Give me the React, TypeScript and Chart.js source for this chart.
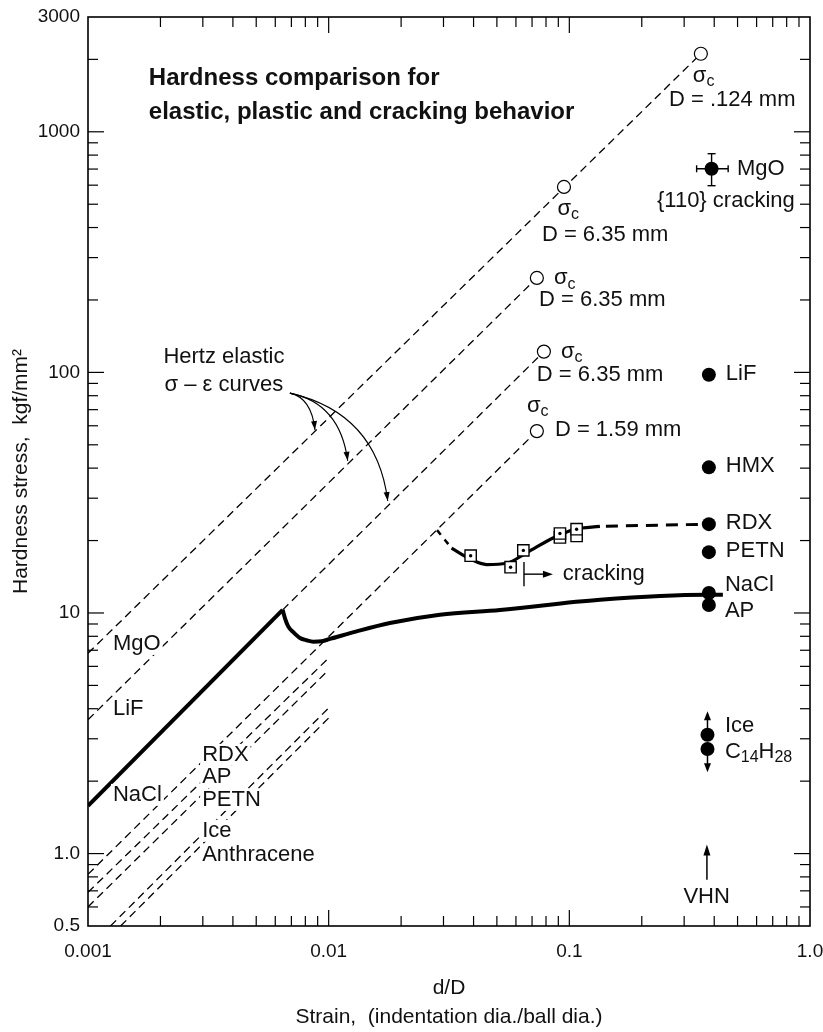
import React, { useEffect, useRef } from 'react';
import { Chart, registerables } from 'chart.js';

Chart.register(...registerables);

const FONT = '"Liberation Sans", Arial, Helvetica, sans-serif';

// ---------- axes ----------
const xTickValues = [0.001, 0.01, 0.1, 1];
const xTickLabels = ['0.001', '0.01', '0.1', '1.0'];
const yTickValues = [0.5, 1, 10, 100, 1000, 3000];
const yTickLabels = ['0.5', '1.0', '10', '100', '1000', '3000'];
const xMajorMarks = [0.01, 0.1];
const xMinorMarks = [0.002, 0.003, 0.004, 0.005, 0.006, 0.007, 0.008, 0.009,
  0.02, 0.03, 0.04, 0.05, 0.06, 0.07, 0.08, 0.09,
  0.2, 0.3, 0.4, 0.5, 0.6, 0.7, 0.8, 0.9];
const yMajorMarks = [1, 10, 100, 1000];
const yMinorMarks = [0.6, 0.7, 0.8, 0.9, 2, 3, 4, 5, 6, 7, 8, 9,
  20, 30, 40, 50, 60, 70, 80, 90, 200, 300, 400, 500, 600, 700, 800, 900, 2000];

// ---------- Hertz elastic sigma-epsilon lines ----------
const hertzMgOX = [0.001, 0.352];
const hertzMgOY = [6.8, 2110];
const hertzLiFX = [0.001, 0.0733];
const hertzLiFY = [3.6, 247];
const hertzNaClX = [0.00644, 0.0784];
const hertzNaClY = [10.3, 122];
const hertzRDXX = [0.001, 0.0733];
const hertzRDXY = [0.82, 57];
const hertzAPX = [0.001, 0.01];
const hertzAPY = [0.69, 6.5];
const hertzPETNX = [0.001, 0.01];
const hertzPETNY = [0.6, 5.8];
const hertzIceX = [0.00124, 0.01];
const hertzIceY = [0.5, 4.03];
const hertzAnthX = [0.001366, 0.01];
const hertzAnthY = [0.5, 3.66];

// ---------- critical stress (sigma_c) points ----------
const sigmaCX = [0.352, 0.095, 0.0733, 0.0784, 0.0733];
const sigmaCY = [2110, 590, 247, 122, 57];

// ---------- NaCl measured curve ----------
const naclRiseX = [0.001, 0.00644];
const naclRiseY = [1.58, 10.3];
const naclPlasticX = [0.00644, 0.00658, 0.00679, 0.00713, 0.0076, 0.0081, 0.00863, 0.00935,
  0.01013, 0.01307, 0.01797, 0.029, 0.0515, 0.134, 0.373, 0.4345];
const naclPlasticY = [10.3, 9.53, 8.8, 8.32, 7.87, 7.7, 7.6, 7.63,
  7.8, 8.39, 9.09, 9.84, 10.3, 11.35, 11.9, 11.9];

// ---------- RDX measured curve ----------
const rdxOnsetX = [0.0282, 0.0324];
const rdxOnsetY = [22.1, 18.6];
const rdxCurveX = [0.0324, 0.0386, 0.0453, 0.0549, 0.0665, 0.0855, 0.1055, 0.134];
const rdxCurveY = [18.6, 16.8, 15.9, 16.1, 17.8, 20.5, 22.3, 22.9];
const rdxExtrapX = [0.134, 0.38];
const rdxExtrapY = [22.9, 23.4];
const rdxSquaresX = [0.0914, 0.1072, 0.0389, 0.057, 0.0644, 0.0914, 0.1072];
const rdxSquaresY = [20.6, 20.9, 17.3, 15.5, 18.2, 21.4, 22.3];

// ---------- VHN (Vickers) hardness points ----------
const vhnMaterials = ['MgO', 'LiF', 'HMX', 'RDX', 'PETN', 'NaCl', 'AP', 'Ice', 'C14H28'];
const vhnX = [0.39, 0.38, 0.38, 0.38, 0.38, 0.38, 0.38, 0.375, 0.375];
const vhnY = [702, 97.8, 40.3, 23.4, 17.9, 12.1, 10.8, 3.12, 2.72];
const mgoErrX = [0.338, 0.457];
const mgoErrY = [597, 811];

// arrows (data coords)
const iceArrowY = [3.12, 3.9];
const c14ArrowY = [2.72, 2.18];
const vhnArrowX = 0.373;
const vhnArrowY = [0.779, 1.09];
const crackBarX = 0.0648;
const crackBarY = [12.9, 16.3];
const crackArrowX = [0.0648, 0.0855];
const crackArrowY = 14.5;

// Hertz curved arrows: start, control, end
const hertzArrowStart = [0.0069, 82];
const hertzArrowCtrlX = [0.0085, 0.01114, 0.01583];
const hertzArrowCtrlY = [78.3, 74.6, 67.8];
const hertzArrowEndX = [0.00877, 0.012, 0.0176];
const hertzArrowEndY = [57.6, 42.9, 29.2];

type Part = { t: string; sub?: boolean };
type Label = { parts: Part[]; x: number; y: number; align: 'left' | 'center'; size?: number; bold?: boolean; bg?: boolean };

const SIG: Part[] = [{ t: 'σ' }, { t: 'c', sub: true }];

const labels: Label[] = [
  { parts: [{ t: 'Hardness comparison for' }], x: 0.00179, y: 1648, align: 'left', size: 24, bold: true },
  { parts: [{ t: 'elastic, plastic and cracking behavior' }], x: 0.00179, y: 1193, align: 'left', size: 24, bold: true },
  { parts: SIG, x: 0.326, y: 1690, align: 'left', bg: true },
  { parts: [{ t: 'D = .124 mm' }], x: 0.2594, y: 1343, align: 'left' },
  { parts: SIG, x: 0.0892, y: 473, align: 'left', bg: true },
  { parts: [{ t: 'D = 6.35 mm' }], x: 0.0769, y: 369, align: 'left' },
  { parts: SIG, x: 0.0863, y: 244, align: 'left', bg: true },
  { parts: [{ t: 'D = 6.35 mm' }], x: 0.0748, y: 198, align: 'left' },
  { parts: SIG, x: 0.0923, y: 120.4, align: 'left', bg: true },
  { parts: [{ t: 'D = 6.35 mm' }], x: 0.0733, y: 96.6, align: 'left' },
  { parts: SIG, x: 0.0667, y: 71.8, align: 'left', bg: true },
  { parts: [{ t: 'D = 1.59 mm' }], x: 0.0871, y: 57.1, align: 'left' },
  { parts: [{ t: 'MgO' }], x: 0.497, y: 694, align: 'left' },
  { parts: [{ t: '{110} cracking' }], x: 0.447, y: 511, align: 'center' },
  { parts: [{ t: 'LiF' }], x: 0.447, y: 97.8, align: 'left' },
  { parts: [{ t: 'HMX' }], x: 0.447, y: 40.3, align: 'left' },
  { parts: [{ t: 'RDX' }], x: 0.447, y: 23.4, align: 'left' },
  { parts: [{ t: 'PETN' }], x: 0.447, y: 17.9, align: 'left' },
  { parts: [{ t: 'NaCl' }], x: 0.443, y: 12.95, align: 'left' },
  { parts: [{ t: 'AP' }], x: 0.443, y: 10.1, align: 'left' },
  { parts: [{ t: 'Ice' }], x: 0.443, y: 3.36, align: 'left' },
  { parts: [{ t: 'C' }, { t: '14', sub: true }, { t: 'H' }, { t: '28', sub: true }], x: 0.443, y: 2.62, align: 'left' },
  { parts: [{ t: 'VHN' }], x: 0.372, y: 0.654, align: 'center' },
  { parts: [{ t: 'cracking' }], x: 0.094, y: 14.4, align: 'left' },
  { parts: [{ t: 'MgO' }], x: 0.00127, y: 7.36, align: 'left', bg: true },
  { parts: [{ t: 'LiF' }], x: 0.00127, y: 3.95, align: 'left', bg: true },
  { parts: [{ t: 'NaCl' }], x: 0.00127, y: 1.735, align: 'left', bg: true },
  { parts: [{ t: 'RDX' }], x: 0.00298, y: 2.545, align: 'left', bg: true },
  { parts: [{ t: 'AP' }], x: 0.00298, y: 2.06, align: 'left', bg: true },
  { parts: [{ t: 'PETN' }], x: 0.00298, y: 1.654, align: 'left', bg: true },
  { parts: [{ t: 'Ice' }], x: 0.00298, y: 1.23, align: 'left', bg: true },
  { parts: [{ t: 'Anthracene' }], x: 0.00298, y: 0.977, align: 'left', bg: true },
  { parts: [{ t: 'Hertz elastic' }], x: 0.00367, y: 114.8, align: 'center' },
  { parts: [{ t: 'σ – ε curves' }], x: 0.00367, y: 87.8, align: 'center' },
];

const pts = (xs: number[], ys: number[]) => xs.map((x, i) => ({ x, y: ys[i] }));

const lineDs = (xs: number[], ys: number[], width: number, dash: number[], extra: any = {}) => ({
  data: pts(xs, ys),
  borderColor: '#000',
  borderWidth: width,
  borderDash: dash,
  pointRadius: 0,
  fill: false,
  tension: 0,
  order: 10,
  ...extra,
});

const HDASH = [8, 5];

function drawRich(ctx: CanvasRenderingContext2D, lab: Label, px: number, py0: number) {
  const size = lab.size || 22;
  const py = py0 - size * 0.05;
  const subSize = Math.round(size * 0.72);
  const weight = lab.bold ? 'bold ' : '';
  const widths = lab.parts.map((p) => {
    ctx.font = `${weight}${p.sub ? subSize : size}px ${FONT}`;
    return ctx.measureText(p.t).width;
  });
  const total = widths.reduce((a, b) => a + b, 0);
  let x = lab.align === 'center' ? px - total / 2 : px;
  if (lab.bg) {
    ctx.fillStyle = '#fff';
    ctx.fillRect(x - 2, py - size * 0.5, total + 4, size * 1.0);
  }
  ctx.fillStyle = '#111';
  ctx.textBaseline = 'middle';
  ctx.textAlign = 'left';
  lab.parts.forEach((p, i) => {
    ctx.font = `${weight}${p.sub ? subSize : size}px ${FONT}`;
    ctx.fillText(p.t, x, p.sub ? py + size * 0.28 : py);
    x += widths[i];
  });
}

function arrowHead(ctx: CanvasRenderingContext2D, tx: number, ty: number, ang: number, len = 9, half = 3.5) {
  ctx.beginPath();
  ctx.moveTo(tx, ty);
  ctx.lineTo(tx - len * Math.cos(ang) + half * Math.sin(ang), ty - len * Math.sin(ang) - half * Math.cos(ang));
  ctx.lineTo(tx - len * Math.cos(ang) - half * Math.sin(ang), ty - len * Math.sin(ang) + half * Math.cos(ang));
  ctx.closePath();
  ctx.fill();
}

const overlayPlugin = {
  id: 'overlay',
  afterDatasetsDraw(chart: any) {
    const ctx: CanvasRenderingContext2D = chart.ctx;
    const X = (v: number) => chart.scales.x.getPixelForValue(v);
    const Y = (v: number) => chart.scales.y.getPixelForValue(v);
    const { left, right, top, bottom } = chart.chartArea;
    ctx.save();
    ctx.strokeStyle = '#000';
    ctx.fillStyle = '#000';
    const seg = (x1: number, y1: number, x2: number, y2: number) => {
      ctx.beginPath();
      ctx.moveTo(x1, y1);
      ctx.lineTo(x2, y2);
      ctx.stroke();
    };
    // frame
    ctx.lineWidth = 1.6;
    ctx.strokeRect(left, top, right - left, bottom - top);
    // ticks on all four sides (inward)
    ctx.lineWidth = 1.2;
    xMajorMarks.forEach((v) => { const p = X(v); seg(p, bottom, p, bottom - 16); seg(p, top, p, top + 16); });
    xMinorMarks.forEach((v) => { const p = X(v); seg(p, bottom, p, bottom - 10); seg(p, top, p, top + 10); });
    yMajorMarks.forEach((v) => { const p = Y(v); seg(left, p, left + 16, p); seg(right, p, right - 16, p); });
    yMinorMarks.forEach((v) => { const p = Y(v); seg(left, p, left + 10, p); seg(right, p, right - 10, p); });

    // MgO error bars
    ctx.lineWidth = 1.4;
    const mx = X(vhnX[0]);
    const my = Y(vhnY[0]);
    seg(mx, Y(mgoErrY[0]), mx, Y(mgoErrY[1]));
    seg(mx - 4, Y(mgoErrY[0]), mx + 4, Y(mgoErrY[0]));
    seg(mx - 4, Y(mgoErrY[1]), mx + 4, Y(mgoErrY[1]));
    seg(X(mgoErrX[0]), my, X(mgoErrX[1]), my);
    seg(X(mgoErrX[0]), my - 3.5, X(mgoErrX[0]), my + 3.5);
    seg(X(mgoErrX[1]), my - 3.5, X(mgoErrX[1]), my + 3.5);

    // Ice (up) / C14H28 (down) arrows
    ctx.lineWidth = 1.5;
    const ix = X(vhnX[7]);
    seg(ix, Y(iceArrowY[0]), ix, Y(iceArrowY[1]) + 6);
    arrowHead(ctx, ix, Y(iceArrowY[1]), -Math.PI / 2, 9, 3.5);
    const cx = X(vhnX[8]);
    seg(cx, Y(c14ArrowY[0]), cx, Y(c14ArrowY[1]) - 6);
    arrowHead(ctx, cx, Y(c14ArrowY[1]), Math.PI / 2, 9, 3.5);
    // VHN arrow
    const vx = X(vhnArrowX);
    seg(vx, Y(vhnArrowY[0]), vx, Y(vhnArrowY[1]) + 6);
    arrowHead(ctx, vx, Y(vhnArrowY[1]), -Math.PI / 2, 11, 3.5);
    // cracking marker
    ctx.lineWidth = 1.4;
    seg(X(crackBarX), Y(crackBarY[0]), X(crackBarX), Y(crackBarY[1]));
    seg(X(crackArrowX[0]), Y(crackArrowY), X(crackArrowX[1]) - 6, Y(crackArrowY));
    arrowHead(ctx, X(crackArrowX[1]), Y(crackArrowY), 0, 10, 3.5);

    // Hertz curved arrows
    ctx.lineWidth = 1.1;
    const sx = X(hertzArrowStart[0]);
    const sy = Y(hertzArrowStart[1]);
    hertzArrowEndX.forEach((ex, i) => {
      const qx = X(hertzArrowCtrlX[i]);
      const qy = Y(hertzArrowCtrlY[i]);
      const tx = X(ex);
      const ty = Y(hertzArrowEndY[i]);
      ctx.beginPath();
      ctx.moveTo(sx, sy);
      ctx.quadraticCurveTo(qx, qy, tx, ty);
      ctx.stroke();
      arrowHead(ctx, tx, ty, Math.atan2(ty - qy, tx - qx), 9, 3);
    });

    // text labels
    labels.forEach((lab) => drawRich(ctx, lab, X(lab.x), Y(lab.y)));
    ctx.restore();
  },
};

export default function App() {
  const ref = useRef<HTMLCanvasElement>(null);
  useEffect(() => {
    if (!ref.current) return;
    const datasets: any[] = [
      lineDs(hertzMgOX, hertzMgOY, 1.3, HDASH),
      lineDs(hertzLiFX, hertzLiFY, 1.3, HDASH),
      lineDs(hertzNaClX, hertzNaClY, 1.3, HDASH),
      lineDs(hertzRDXX, hertzRDXY, 1.3, HDASH),
      lineDs(hertzAPX, hertzAPY, 1.3, HDASH),
      lineDs(hertzPETNX, hertzPETNY, 1.3, HDASH),
      lineDs(hertzIceX, hertzIceY, 1.3, HDASH),
      lineDs(hertzAnthX, hertzAnthY, 1.3, HDASH),
      lineDs(naclRiseX, naclRiseY, 4, [], { order: 6 }),
      lineDs(naclPlasticX, naclPlasticY, 4, [], { order: 6, cubicInterpolationMode: 'monotone' }),
      lineDs(rdxOnsetX, rdxOnsetY, 2.5, [6, 6], { order: 6 }),
      lineDs(rdxCurveX, rdxCurveY, 3.2, [], { order: 6, cubicInterpolationMode: 'monotone' }),
      lineDs(rdxExtrapX, rdxExtrapY, 3, [12, 8], { order: 6, borderDashOffset: -6 }),
      {
        data: pts(sigmaCX, sigmaCY), showLine: false, pointStyle: 'circle', pointRadius: 6.5, order: 3,
        pointBackgroundColor: '#fff', pointBorderColor: '#000', pointBorderWidth: 1.2,
      },
      {
        data: pts(rdxSquaresX, rdxSquaresY), showLine: false, pointStyle: 'rect', pointRadius: 8, order: 2,
        pointBackgroundColor: '#fff', pointBorderColor: '#000', pointBorderWidth: 1.4,
      },
      {
        data: pts(rdxSquaresX.slice(2), rdxSquaresY.slice(2)), showLine: false, pointStyle: 'circle', pointRadius: 1.7, order: 1,
        pointBackgroundColor: '#000', pointBorderColor: '#000', pointBorderWidth: 0,
      },
      {
        label: 'VHN', data: pts(vhnX, vhnY), showLine: false, pointStyle: 'circle', pointRadius: 7, order: 1,
        pointBackgroundColor: '#000', pointBorderColor: '#000', pointBorderWidth: 0,
      },
    ];
    const chart = new Chart(ref.current, {
      type: 'line',
      data: { datasets },
      options: {
        responsive: false,
        animation: false,
        devicePixelRatio: 1,
        layout: { padding: { left: 0, right: 13, top: 17, bottom: 0 } },
        plugins: { legend: { display: false }, tooltip: { enabled: false } },
        events: [],
        scales: {
          x: {
            type: 'logarithmic',
            min: 0.001,
            max: 1,
            grid: { display: false, drawTicks: false },
            border: { display: false },
            afterBuildTicks: (s: any) => { s.ticks = xTickValues.map((v) => ({ value: v })); },
            afterFit: (s: any) => { s.height = 106; s.paddingLeft = 0; s.paddingRight = 0; },
            ticks: {
              autoSkip: false, maxRotation: 0, minRotation: 0, padding: 14, color: '#111',
              font: { family: FONT, size: 19 },
              callback: (_v: any, i: number) => xTickLabels[i],
            },
            title: {
              display: true,
              text: ['d/D', 'Strain,  (indentation dia./ball dia.)'],
              color: '#111',
              font: { family: FONT, size: 21, lineHeight: 1.38 },
              padding: { top: 0, bottom: 0 },
            },
          },
          y: {
            type: 'logarithmic',
            min: 0.5,
            max: 3000,
            grid: { display: false, drawTicks: false },
            border: { display: false },
            afterBuildTicks: (s: any) => { s.ticks = yTickValues.map((v) => ({ value: v })); },
            afterFit: (s: any) => { s.width = 88; s.paddingTop = 0; s.paddingBottom = 0; },
            ticks: {
              autoSkip: false, padding: 8, color: '#111',
              font: { family: FONT, size: 19 },
              callback: (_v: any, i: number) => yTickLabels[i],
            },
            title: {
              display: true,
              text: 'Hardness stress,  kgf/mm²',
              color: '#111',
              font: { family: FONT, size: 21 },
              padding: { top: 9, bottom: 0 },
            },
          },
        },
      } as any,
      plugins: [overlayPlugin],
    });
    return () => chart.destroy();
  }, []);
  return (
    <div style={{ position: 'absolute', left: 0, top: 0, width: 823, height: 1032, background: '#fff' }}>
      <canvas ref={ref} width={823} height={1032} style={{ display: 'block', width: 823, height: 1032 }} />
    </div>
  );
}
